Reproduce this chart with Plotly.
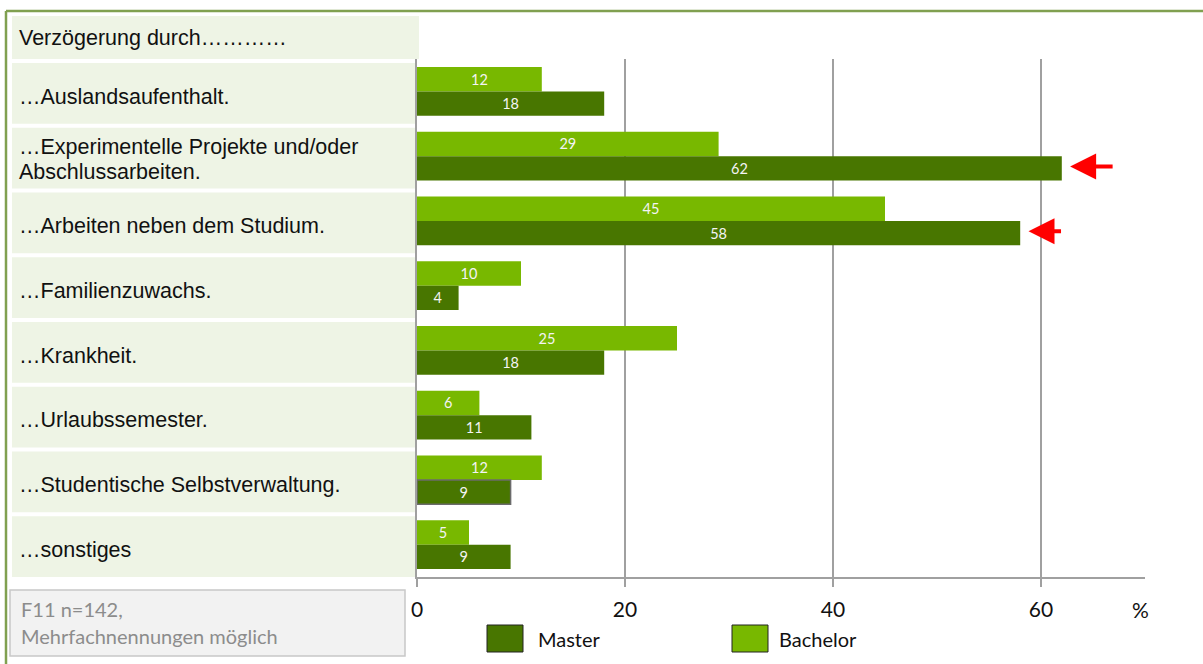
import plotly.graph_objects as go

# Reasons for delay and share of respondents (%)
categories = [
    ["…Auslandsaufenthalt."],
    ["…Experimentelle Projekte und/oder", "Abschlussarbeiten."],
    ["…Arbeiten neben dem Studium."],
    ["…Familienzuwachs."],
    ["…Krankheit."],
    ["…Urlaubssemester."],
    ["…Studentische Selbstverwaltung."],
    ["…sonstiges"],
]
bachelor = [12, 29, 45, 10, 25, 6, 12, 5]
master = [18, 62, 58, 4, 18, 11, 9, 9]
x_ticks = [0, 20, 40, 60]
highlighted = [1, 2]  # rows marked with an arrow on the Master bar

C_BACH = "#78B800"
C_MAST = "#487600"
C_BOX = "#EEF4E5"
C_FRAME = "#80A050"
C_GRID = "#A0A0A0"
LABEL_FONT = dict(family="Liberation Sans", size=21.5, color="#111111")

W, H = 1203, 664
L, R, T, B = 417, 58, 59, 87
PW, PH = W - L - R, H - T - B


def px(xp):
    return (xp - L) / PW


def py(yp):
    return (H - B - yp) / PH


ids = list(range(len(categories)))
master_line = ["#6b6b6b" if i == 6 else C_MAST for i in ids]
master_lw = [1.5 if i == 6 else 0 for i in ids]

fig = go.Figure()
fig.add_trace(go.Bar(
    name="Bachelor", y=ids, x=bachelor, orientation="h",
    marker=dict(color=C_BACH, line=dict(width=0)),
    text=bachelor, textposition="inside", insidetextanchor="middle",
    textangle=0, textfont=dict(family="Lato", size=14.5, color="#F4F4F4"),
))
fig.add_trace(go.Bar(
    name="Master", y=ids, x=master, orientation="h",
    marker=dict(color=C_MAST, line=dict(width=master_lw, color=master_line)),
    text=master, textposition="inside", insidetextanchor="middle",
    textangle=0, textfont=dict(family="Lato", size=14.5, color="#F4F4F4"),
))

shapes = []
annotations = []

# frame lines (top and left)
shapes.append(dict(type="line", xref="paper", yref="paper",
                   x0=px(6), x1=px(W + 2), y0=py(11), y1=py(11),
                   line=dict(color=C_FRAME, width=2.5)))
shapes.append(dict(type="line", xref="paper", yref="paper",
                   x0=px(6), x1=px(6), y0=py(11), y1=py(H + 2),
                   line=dict(color=C_FRAME, width=2.5)))

# header box
shapes.append(dict(type="rect", xref="paper", yref="paper",
                   x0=px(12), x1=px(419), y0=py(16), y1=py(59),
                   fillcolor=C_BOX, line=dict(width=0), layer="below"))
annotations.append(dict(xref="paper", yref="paper", x=px(17), y=py(38),
                        text="Verzögerung durch…………", showarrow=False,
                        xanchor="left", yanchor="middle", font=LABEL_FONT))

# category label boxes
for i, lines in zip(ids, categories):
    shapes.append(dict(type="rect", xref="paper", yref="y",
                       x0=px(12), x1=px(415), y0=i - 0.44, y1=i + 0.5,
                       fillcolor=C_BOX, line=dict(width=0), layer="below"))
    n = len(lines)
    base = 0.08 if n == 1 else 0.05
    for k, line in enumerate(lines):
        annotations.append(dict(xref="paper", yref="y", x=px(17), y=i + base,
                                yshift=-(k - (n - 1) / 2) * 25,
                                text=line, showarrow=False, align="left",
                                xanchor="left", yanchor="middle", font=LABEL_FONT))

# red arrows pointing at the highlighted Master bars
for i in highlighted:
    annotations.append(dict(xref="x", yref="y", x=master[i] + 0.8, y=i + 0.16,
                            ax=44 if i == 1 else 34, ay=0, text="",
                            showarrow=True, arrowhead=2, arrowsize=1.3,
                            arrowwidth=4, arrowcolor="#FF0000"))

# unit label
annotations.append(dict(xref="paper", yref="paper", x=px(1140), y=py(609),
                        text="%", showarrow=False, xanchor="center", yanchor="middle",
                        font=dict(family="Lato", size=21, color="#111111")))

# source note box
shapes.append(dict(type="rect", xref="paper", yref="paper",
                   x0=px(10), x1=px(405), y0=py(590), y1=py(656),
                   fillcolor="#F2F2F2", line=dict(color="#C8C8C8", width=1.5)))
for k, line in enumerate(["F11 n=142,", "Mehrfachnennungen möglich"]):
    annotations.append(dict(xref="paper", yref="paper", x=px(19), y=py(609 + 27 * k),
                            text=line, showarrow=False, align="left",
                            xanchor="left", yanchor="middle",
                            font=dict(family="Lato", size=20, color="#8C8C8C")))

# legend
for name, color, x0, tx in [("Master", C_MAST, 487, 536), ("Bachelor", C_BACH, 732, 777)]:
    shapes.append(dict(type="rect", xref="paper", yref="paper",
                       x0=px(x0), x1=px(x0 + 36), y0=py(625), y1=py(652),
                       fillcolor=color, line=dict(color="#222222", width=1)))
    annotations.append(dict(xref="paper", yref="paper", x=px(tx), y=py(639),
                            text=name, showarrow=False, xanchor="left", yanchor="middle",
                            font=dict(family="Lato", size=20, color="#111111")))

fig.update_layout(
    width=W, height=H,
    margin=dict(l=L, r=R, t=T, b=B, pad=0),
    paper_bgcolor="white", plot_bgcolor="white",
    barmode="group", bargap=0.25, bargroupgap=0,
    showlegend=False,
    shapes=shapes, annotations=annotations,
    xaxis=dict(range=[0, 70], tickvals=x_ticks, showgrid=True,
               gridcolor=C_GRID, gridwidth=1.5, zeroline=False,
               showline=True, linecolor=C_GRID, linewidth=2,
               ticks="outside", ticklen=8, tickcolor=C_GRID, tickwidth=1.5,
               ticklabelstandoff=5,
               tickfont=dict(family="Lato", size=21, color="#111111"),
               fixedrange=True),
    yaxis=dict(range=[len(categories) - 0.5, -0.5], showticklabels=False,
               showgrid=False, zeroline=False, showline=True,
               linecolor=C_GRID, linewidth=2, ticks="", fixedrange=True),
)

fig.write_html("out.html", config={"displayModeBar": False})
